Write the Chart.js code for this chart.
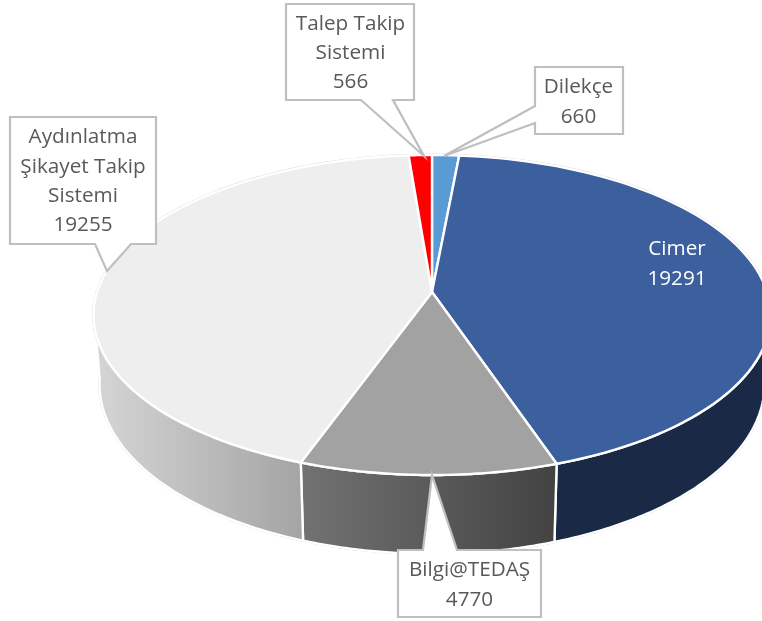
<!DOCTYPE html>
<html lang="tr">
<head>
<meta charset="utf-8">
<title>Başvuru kanalları</title>
<script src="https://cdn.jsdelivr.net/npm/chart.js@4"></script>
<style>
    html, body { margin: 0; padding: 0; background: #fff; }
    canvas { display: block; }
</style>
</head>
<body>
<canvas id="grafik" width="762" height="621"></canvas>
<script>
const kategoriler = [
    ["Dilekçe"],
    ["Cimer"],
    ["Bilgi@TEDAŞ"],
    ["Aydınlatma", "Şikayet Takip", "Sistemi"],
    ["Talep Takip", "Sistemi"],
];
const degerler = [660, 19291, 4770, 19255, 566];

const renkler = ["#5b9bd5", "#3c5f9e", "#a2a2a2", "#eeeeee", "#ff0000"];
// yan yuzey: [sol renk, sag renk], gorunmeyen dilimlerde null
const yanRenkler = [null, ["#1a2945", "#1a2945"], ["#727272", "#434343"], ["#d4d4d4", "#a4a4a4"], null];

// perspektif: ust ve alt disk
const UST = { cx: 432, cy: 292, a: 335, b: 156.7, k: 0.14375 };
const ALT = { cx: 432, cy: 360, a: 329, b: 166, k: 0.14375 };
const YAN_SINIR = [1.72, 4.6]; // kenar cizgisinin goruldugu acilar

// etiket kutulari: kutu, ok noktalari, satir merkezleri
const kutular = [
    { x1: 535, y1: 67, x2: 623, y2: 134, kenar: "sol", ok: [[535, 123], [444, 156], [535, 106]], cx: 578.5, y: 87.5 },
    { metin: true, cx: 677, y: 249.5 },
    { x1: 398, y1: 550, x2: 541, y2: 617, kenar: "ust", ok: [[423, 550], [432, 475], [457, 550]], cx: 469.5, y: 570.5 },
    { x1: 10, y1: 117, x2: 156, y2: 244, kenar: "alt", ok: [[131, 244], [107, 271], [95, 244]], cx: 83, y: 137.5 },
    { x1: 286, y1: 4, x2: 414, y2: 100, kenar: "alt", ok: [[393, 100], [424, 156], [361, 100]], cx: 350.5, y: 24 },
];
const SATIR = 29.3;

function nokta(d, aci) {
    const X = Math.sin(aci), Y = Math.cos(aci), w = 1 + d.k * Y;
    return [d.cx + d.a * X / w, d.cy - d.b * Y / w];
}

function kenar(ctx, d, bas, son) {
    const adim = 80;
    for (let i = 0; i <= adim; i++) {
        const p = nokta(d, bas + (son - bas) * i / adim);
        ctx.lineTo(p[0], p[1]);
    }
}

function yanYuzey(ctx, bas, son, renk) {
    const b = Math.max(bas, YAN_SINIR[0]), s = Math.min(son, YAN_SINIR[1]);
    if (!renk || b >= s) return;
    const g = ctx.createLinearGradient(nokta(ALT, s)[0], 0, nokta(ALT, b)[0], 0);
    g.addColorStop(0, renk[0]);
    g.addColorStop(1, renk[1]);
    ctx.beginPath();
    kenar(ctx, UST, b, s);
    kenar(ctx, ALT, s, b);
    ctx.closePath();
    ctx.fillStyle = g;
    ctx.fill();
    ctx.strokeStyle = "#fff";
    ctx.lineWidth = 2.4;
    ctx.stroke();
}

function etiket(ctx, i, kutu) {
    const satirlar = kategoriler[i].concat(String(degerler[i]));
    if (!kutu.metin) {
        const ok = () => kutu.ok.forEach((p) => ctx.lineTo(p[0], p[1]));
        ctx.beginPath();
        ctx.moveTo(kutu.x1, kutu.y1);
        if (kutu.kenar === "ust") ok();
        ctx.lineTo(kutu.x2, kutu.y1);
        ctx.lineTo(kutu.x2, kutu.y2);
        if (kutu.kenar === "alt") ok();
        ctx.lineTo(kutu.x1, kutu.y2);
        if (kutu.kenar === "sol") ok();
        ctx.closePath();
        ctx.fillStyle = "#fff";
        ctx.fill();
        ctx.strokeStyle = "#bfbfbf";
        ctx.lineWidth = 2.2;
        ctx.lineJoin = "miter";
        ctx.stroke();
    }
    ctx.fillStyle = kutu.metin ? "#ffffff" : "#595959";
    ctx.font = "20.7px 'Open Sans'";
    ctx.textAlign = "center";
    ctx.textBaseline = "middle";
    satirlar.forEach((s, n) => ctx.fillText(s, kutu.cx, kutu.y + n * SATIR));
}

const pasta3b = {
    id: "pasta3b",
    beforeDatasetDraw(chart) {
        const ctx = chart.ctx;
        const dilimler = chart.getDatasetMeta(0).data.map((arc) => ({
            bas: arc.startAngle + Math.PI / 2,
            son: arc.endAngle + Math.PI / 2,
        }));
        ctx.save();
        ctx.lineJoin = "round";

        // alt kenardaki soluk cizgi
        ctx.beginPath();
        kenar(ctx, ALT, YAN_SINIR[0], YAN_SINIR[1]);
        ctx.strokeStyle = "#c8c8c8";
        ctx.lineWidth = 2.4;
        ctx.stroke();

        dilimler.forEach((d, i) => yanYuzey(ctx, d.bas, d.son, yanRenkler[i]));

        ctx.beginPath();
        kenar(ctx, UST, 0, Math.PI * 2);
        ctx.strokeStyle = "#c8c8c8";
        ctx.lineWidth = 2.8;
        ctx.stroke();

        dilimler.forEach((d, i) => {
            ctx.beginPath();
            ctx.moveTo(UST.cx, UST.cy);
            kenar(ctx, UST, d.bas, d.son);
            ctx.closePath();
            ctx.fillStyle = renkler[i];
            ctx.fill();
            ctx.strokeStyle = "#fff";
            ctx.lineWidth = 2.4;
            ctx.stroke();
        });

        kutular.forEach((k, i) => etiket(ctx, i, k));
        ctx.restore();
        return false;
    },
};

new Chart(document.getElementById("grafik"), {
    type: "pie",
    data: {
        labels: kategoriler,
        datasets: [{ data: degerler, backgroundColor: renkler }],
    },
    options: {
        responsive: false,
        animation: false,
        plugins: { legend: { display: false }, tooltip: { enabled: false } },
    },
    plugins: [pasta3b],
});
</script>
</body>
</html>
